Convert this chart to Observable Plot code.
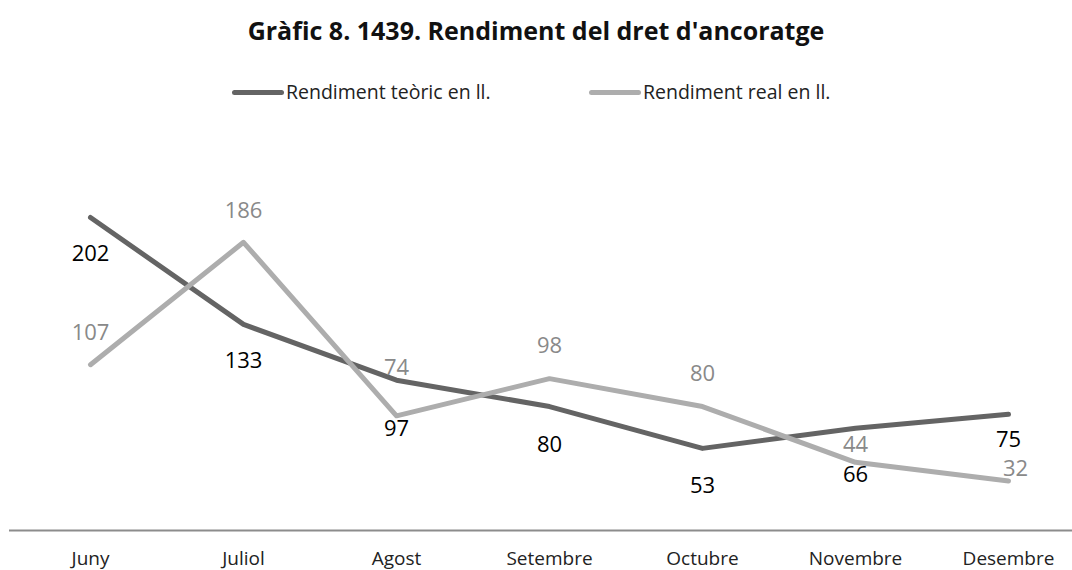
<!DOCTYPE html>
<html>
<head>
<meta charset="utf-8">
<script src="https://cdn.jsdelivr.net/npm/d3@7"></script>
<script src="https://cdn.jsdelivr.net/npm/@observablehq/plot@0.6"></script>
<style>
  html, body { margin: 0; padding: 0; background: #fff; }
  body { width: 1072px; height: 570px; overflow: hidden; font-family: "Open Sans", sans-serif; }
  #header { position: relative; width: 1072px; height: 130px; }
  #title { position: absolute; left: 0; width: 1072px; top: 13px; text-align: center; font-weight: bold; font-size: 25px; color: #111; letter-spacing: 0px; line-height: 34px; }
  .leg { position: absolute; top: 79px; display: flex; align-items: center; font-size: 19.5px; color: #222; line-height: 26px; }
  .sw { display: inline-block; width: 52px; height: 5px; border-radius: 3px; margin-right: 2px; }
  #chart svg { display: block; }
</style>
</head>
<body>
<div id="header">
  <div id="title">Gràfic 8. 1439. Rendiment del dret d'ancoratge</div>
  <div class="leg" style="left:232px"><span class="sw" style="background:#646464"></span><span id="l1"></span></div>
  <div class="leg" style="left:589px"><span class="sw" style="background:#adadad"></span><span id="l2"></span></div>
</div>
<div id="chart"></div>
<script>
const months = ["Juny", "Juliol", "Agost", "Setembre", "Octubre", "Novembre", "Desembre"];
const seriesNames = ["Rendiment teòric en ll.", "Rendiment real en ll."];
const teoric = [202, 133, 97, 80, 53, 66, 75];
const real = [107, 186, 74, 98, 80, 44, 32];

// label nudges (layout only), in pixels
const teoricLabelDy = [36, 37, 49, 38, 38, 47, 26];
const realLabelDy = [-32, -31, -48, -33, -33, -17, -12];
const realLabelDx = [0, 0, 0, 0, 0, 0, 7];

document.getElementById("l1").textContent = seriesNames[0];
document.getElementById("l2").textContent = seriesNames[1];

const rows = [];
months.forEach((m, i) => {
  rows.push({month: m, value: teoric[i], series: seriesNames[0], dy: teoricLabelDy[i], dx: 0});
  rows.push({month: m, value: real[i], series: seriesNames[1], dy: realLabelDy[i], dx: realLabelDx[i]});
});
const tRows = rows.filter(d => d.series === seriesNames[0]);
const rRows = rows.filter(d => d.series === seriesNames[1]);

const labelMarks = (data, fill) => data.map(d => Plot.text([d], {
  x: "month", y: "value", text: d => String(d.value),
  dy: d.dy, dx: d.dx, fill, fontSize: 22, fontFamily: "Open Sans", textAnchor: "middle"
}));

const chart = Plot.plot({
  width: 1072,
  height: 440,
  marginLeft: 9,
  marginRight: 0,
  marginTop: 0,
  marginBottom: 40,
  style: {fontFamily: "Open Sans", background: "#fff"},
  x: {type: "point", domain: months, range: [88, 1010], padding: 0, label: null},
  y: {domain: [0, 202], range: [400, 87], axis: null},
  marks: [
    Plot.ruleY([0], {stroke: "#8c8c8c", strokeWidth: 2}),
    Plot.axisX({tickSize: 0, tickPadding: 21, fontSize: 19, fill: "#222", label: null}),
    Plot.line(tRows, {x: "month", y: "value", stroke: "#646464", strokeWidth: 5, strokeLinecap: "round", strokeLinejoin: "round"}),
    Plot.line(rRows, {x: "month", y: "value", stroke: "#adadad", strokeWidth: 5, strokeLinecap: "round", strokeLinejoin: "round"}),
    ...labelMarks(tRows, "#000"),
    ...labelMarks(rRows, "#898989")
  ]
});
document.getElementById("chart").appendChild(chart);
</script>
</body>
</html>
